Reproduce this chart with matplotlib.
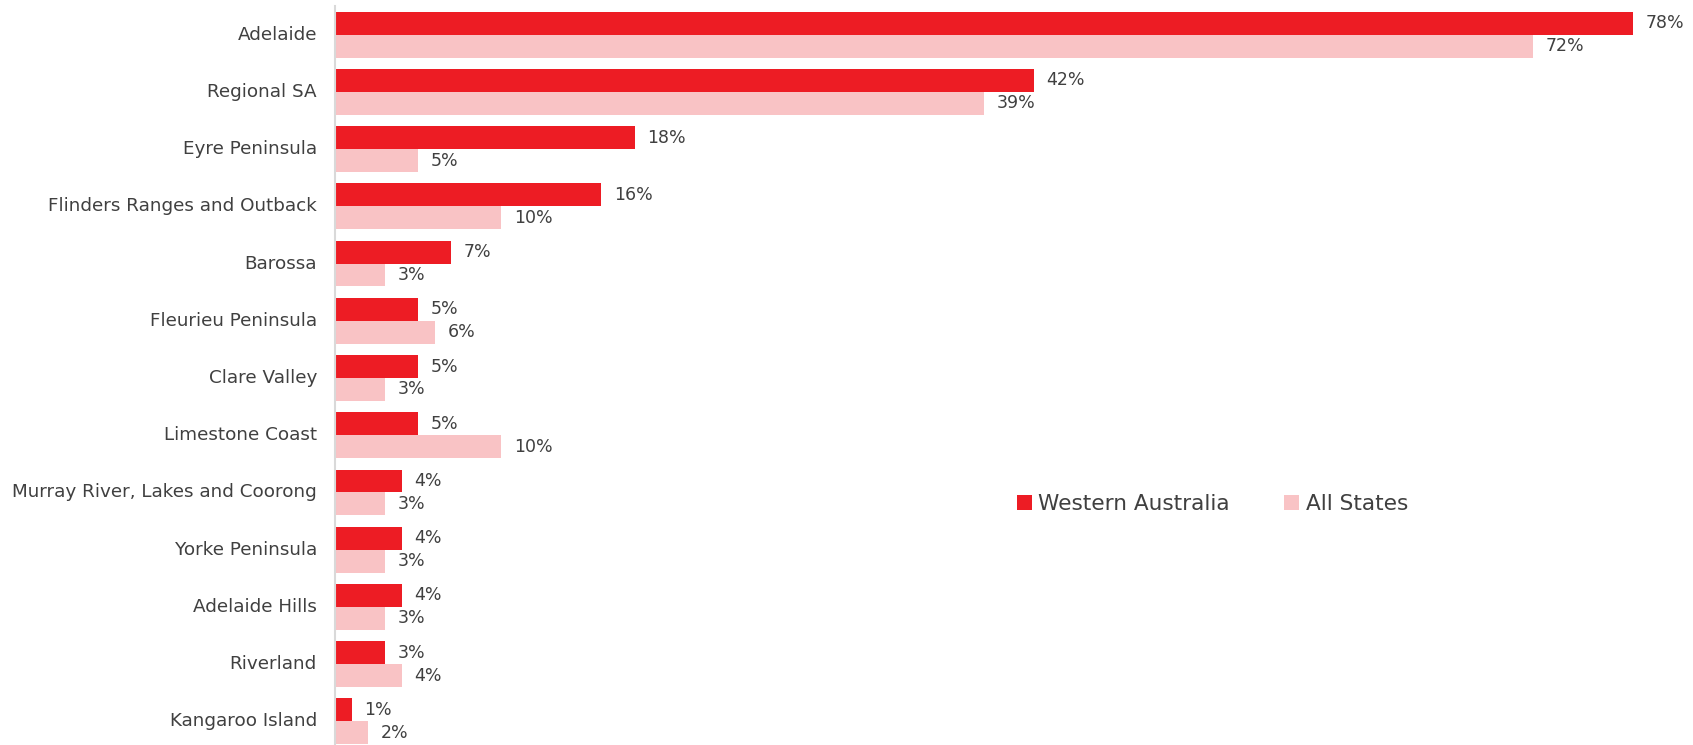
import matplotlib
matplotlib.use("Agg")
import matplotlib.pyplot as plt
import numpy as np

regions = ["Adelaide", "Regional SA", "Eyre Peninsula", "Flinders Ranges and Outback",
           "Barossa", "Fleurieu Peninsula", "Clare Valley", "Limestone Coast",
           "Murray River, Lakes and Coorong", "Yorke Peninsula", "Adelaide Hills",
           "Riverland", "Kangaroo Island"]
western_australia = [78, 42, 18, 16, 7, 5, 5, 5, 4, 4, 4, 3, 1]
all_states = [72, 39, 5, 10, 3, 6, 3, 10, 3, 3, 3, 4, 2]

RED = "#ED1C24"
PINK = "#F9C3C5"
TXT = "#404040"

plt.rcParams["font.family"] = ["DejaVu Sans"]

W, H = 1693, 745
fig = plt.figure(figsize=(W / 100, H / 100), dpi=100)
ax = fig.add_axes([335 / W, -5 / H, 1 - 335 / W, 744 / H])

y = np.arange(len(regions))
h = 0.4
b1 = ax.barh(y - h / 2, western_australia, height=h, color=RED, label="Western Australia")
b2 = ax.barh(y + h / 2, all_states, height=h, color=PINK, label="All States")

for bars, vals in ((b1, western_australia), (b2, all_states)):
    for bar, v in zip(bars, vals):
        ax.annotate(f"{v}%", (bar.get_width(), bar.get_y() + bar.get_height() / 2),
                    xytext=(9, 0), textcoords="offset points", va="center",
                    ha="left", fontsize=12.5, color=TXT)

ax.set_xlim(0, (W - 335) / (1633 - 335) * 78)
ax.set_ylim(len(regions) - 0.5, -0.5)
ax.set_yticks(y)
ax.set_yticklabels(regions, fontsize=13.2, color=TXT, va="center")
ax.tick_params(axis="y", length=0, pad=13)
ax.set_xticks([])
for s in ("top", "right", "bottom"):
    ax.spines[s].set_visible(False)
ax.spines["left"].set_color("#D9D9D9")
ax.spines["left"].set_linewidth(1.5)

leg = ax.legend(loc="center left", bbox_to_anchor=((1008 - 335) / (W - 335), (745 - 494 - 5) / 744),
                ncol=2, frameon=False, fontsize=15.6, handlelength=0.7, handleheight=0.7,
                handletextpad=0.3, columnspacing=2.5, borderaxespad=0)
for t in leg.get_texts():
    t.set_color(TXT)

fig.savefig("out.png", dpi=100)
